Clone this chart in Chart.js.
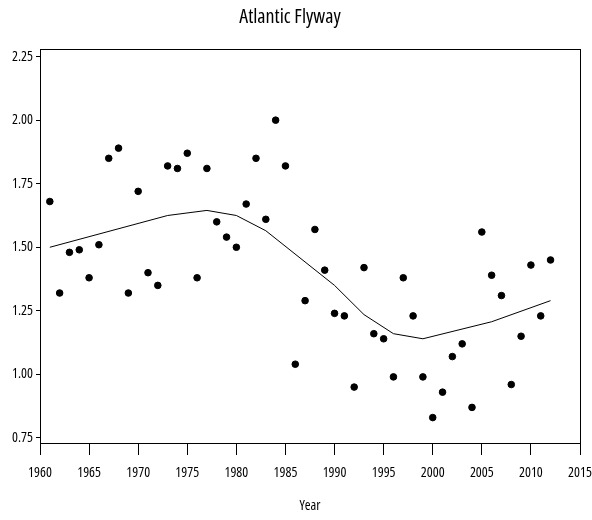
<!DOCTYPE html>
<html>
<head>
<meta charset="utf-8">
<script src="https://cdn.jsdelivr.net/npm/chart.js@4/dist/chart.umd.min.js"></script>
<style>
  html, body { margin: 0; padding: 0; background: #fff; }
  #wrap { width: 592px; height: 520px; }
</style>
</head>
<body>
<div id="wrap"><canvas id="flyway"></canvas></div>
<script>
const years = [1961, 1962, 1963, 1964, 1965, 1966, 1967, 1968, 1969, 1970,
  1971, 1972, 1973, 1974, 1975, 1976, 1977, 1978, 1979, 1980,
  1981, 1982, 1983, 1984, 1985, 1986, 1987, 1988, 1989, 1990,
  1991, 1992, 1993, 1994, 1995, 1996, 1997, 1998, 1999, 2000,
  2001, 2002, 2003, 2004, 2005, 2006, 2007, 2008, 2009, 2010,
  2011, 2012]
const counts = [1.68, 1.32, 1.48, 1.49, 1.38, 1.51, 1.85, 1.89, 1.32, 1.72,
  1.40, 1.35, 1.82, 1.81, 1.87, 1.38, 1.81, 1.60, 1.54, 1.50,
  1.67, 1.85, 1.61, 2.00, 1.82, 1.04, 1.29, 1.57, 1.41, 1.24,
  1.23, 0.95, 1.42, 1.16, 1.14, 0.99, 1.38, 1.23, 0.99, 0.83,
  0.93, 1.07, 1.12, 0.87, 1.56, 1.39, 1.31, 0.96, 1.15, 1.43,
  1.23, 1.45]

// smoothed trend
const trendYears = [1961, 1973, 1977, 1980, 1983, 1990, 1993, 1996, 1999, 2006, 2012]
const trendVals = [1.50, 1.625, 1.645, 1.625, 1.565, 1.35, 1.235, 1.16, 1.14, 1.207, 1.29]

const yTicks = [0.75, 1.00, 1.25, 1.50, 1.75, 2.00, 2.25]

// condensed face of Open Sans, passed through the weight slot of the font string
const FONT = "'Open Sans', sans-serif"
const narrow = size => ({ family: FONT, size: size, weight: 'condensed' })

const frame = {
  id: 'frame',
  afterDraw(chart) {
    const a = chart.chartArea
    const ctx = chart.ctx
    ctx.save()
    ctx.strokeStyle = '#000'
    ctx.lineWidth = 1
    ctx.strokeRect(Math.round(a.left) + 0.5, Math.round(a.top) + 0.5,
      Math.round(a.right - a.left), Math.round(a.bottom - a.top))
    ctx.restore()
  }
}

new Chart(document.getElementById('flyway'), {
  type: 'scatter',
  data: {
    datasets: [
      {
        data: years.map((y, i) => ({ x: y, y: counts[i] })),
        backgroundColor: '#000',
        borderColor: '#000',
        pointRadius: 3.3,
        pointHoverRadius: 3.3,
        showLine: false
      },
      {
        data: trendYears.map((y, i) => ({ x: y, y: trendVals[i] })),
        borderColor: '#000',
        borderWidth: 1,
        pointRadius: 0,
        showLine: true,
        tension: 0
      }
    ]
  },
  options: {
    responsive: true,
    maintainAspectRatio: false,
    animation: false,
    layout: { padding: { left: 0, right: 12, top: 0, bottom: 0 } },
    plugins: {
      legend: { display: false },
      tooltip: { enabled: false },
      title: {
        display: true,
        text: 'Atlantic Flyway',
        color: '#000',
        font: narrow(20),
        padding: { top: 5, bottom: 20 }
      }
    },
    scales: {
      x: {
        type: 'linear',
        min: 1960,
        max: 2015,
        afterFit(scale) {
          scale.height = 77
          scale.paddingLeft = 0
          scale.paddingRight = 0
        },
        border: { display: true, color: '#000', width: 1 },
        grid: { drawOnChartArea: false, drawTicks: true, tickLength: 12, color: '#000' },
        ticks: {
          stepSize: 5,
          color: '#000',
          padding: 10,
          maxRotation: 0,
          font: narrow(14),
          callback: v => String(v)
        },
        title: {
          display: true,
          text: 'Year',
          color: '#000',
          font: narrow(14),
          padding: { top: 0, bottom: 6 }
        }
      },
      y: {
        min: 0.73,
        max: 2.28,
        afterFit(scale) { scale.width = 40 },
        afterBuildTicks(scale) { scale.ticks = yTicks.map(v => ({ value: v })) },
        border: { display: true, color: '#000', width: 1 },
        grid: { drawOnChartArea: false, drawTicks: true, tickLength: 4, color: '#000' },
        ticks: {
          color: '#000',
          padding: 3,
          font: narrow(14),
          callback: v => v.toFixed(2)
        }
      }
    }
  },
  plugins: [frame]
})
</script>
</body>
</html>
